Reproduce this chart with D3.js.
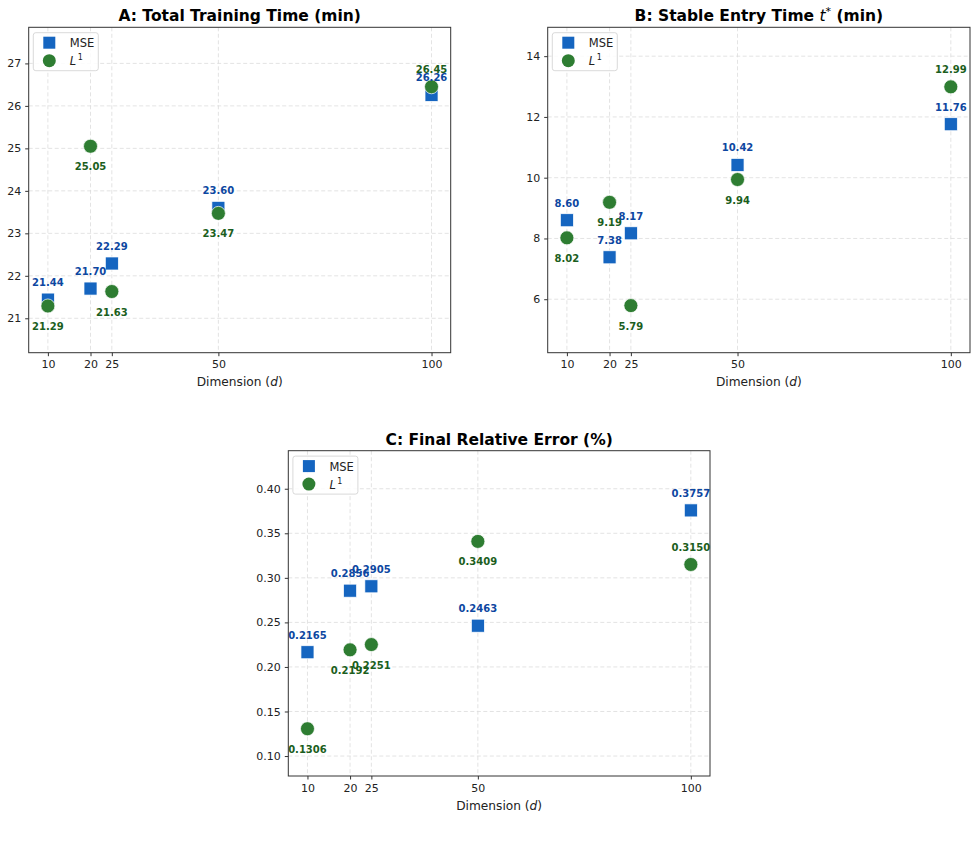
<!DOCTYPE html>
<html>
<head>
<meta charset="utf-8">
<script src="https://cdn.jsdelivr.net/npm/d3@7"></script>
<style>
  body { margin: 0; background: #fff; }
  svg { font-family: "DejaVu Sans", sans-serif; }
</style>
</head>
<body>
<svg id="fig" width="977" height="843"></svg>
<script>
// data
var dims = [10, 20, 25, 50, 100]
var timeMse = [21.44, 21.70, 22.29, 23.60, 26.26]
var timeL1 = [21.29, 25.05, 21.63, 23.47, 26.45]
var entryMse = [8.60, 7.38, 8.17, 10.42, 11.76]
var entryL1 = [8.02, 9.19, 5.79, 9.94, 12.99]
var errMse = [0.2165, 0.2856, 0.2905, 0.2463, 0.3757]
var errL1 = [0.1306, 0.2192, 0.2251, 0.3409, 0.3150]
var timeTicks = [21, 22, 23, 24, 25, 26, 27]
var entryTicks = [6, 8, 10, 12, 14]
var errTicks = [0.10, 0.15, 0.20, 0.25, 0.30, 0.35, 0.40]

var blue = "#1565c0", green = "#2e7d32"
var blueText = "#0d47a1", greenText = "#1b5e20"

var panels = [
  { title: "A: Total Training Time (min)", mse: timeMse, l1: timeL1, ticks: timeTicks,
    ydom: [20.19, 27.85], fmt: d3.format(".2f"), tfmt: d3.format("d"),
    x0: 28.7, x1: 450.7, y0: 27.3, y1: 352.7 },
  { title: "B", mse: entryMse, l1: entryL1, ticks: entryTicks,
    ydom: [4.24, 14.95], fmt: d3.format(".2f"), tfmt: d3.format("d"),
    x0: 547.7, x1: 970, y0: 27.3, y1: 352.7 },
  { title: "C: Final Relative Error (%)", mse: errMse, l1: errL1, ticks: errTicks,
    ydom: [0.0776, 0.4427], fmt: d3.format(".4f"), tfmt: d3.format(".2f"),
    x0: 288.3, x1: 710, y0: 450.7, y1: 776 }
]

var svg = d3.select("#fig")
svg.append("rect").attr("width", 977).attr("height", 843).attr("fill", "#fff")

panels.forEach(function(p) {
  var x = d3.scaleLinear().domain([5.5, 104.5]).range([p.x0, p.x1])
  var y = d3.scaleLinear().domain(p.ydom).range([p.y1, p.y0])
  var g = svg.append("g")

  // grid
  g.selectAll("line.gx").data(dims).enter().append("line")
    .attr("x1", d => x(d)).attr("x2", d => x(d))
    .attr("y1", p.y0).attr("y2", p.y1)
    .attr("stroke", "#dcdcdc").attr("stroke-width", 0.8).attr("stroke-dasharray", "4,2.5")
  g.selectAll("line.gy").data(p.ticks).enter().append("line")
    .attr("y1", d => y(d)).attr("y2", d => y(d))
    .attr("x1", p.x0).attr("x2", p.x1)
    .attr("stroke", "#dcdcdc").attr("stroke-width", 0.8).attr("stroke-dasharray", "4,2.5")

  // axes
  var xa = g.append("g").attr("transform", "translate(0," + p.y1 + ")")
    .call(d3.axisBottom(x).tickValues(dims).tickSize(3.5).tickPadding(4.5).tickFormat(d3.format("d")))
  var ya = g.append("g").attr("transform", "translate(" + p.x0 + ",0)")
    .call(d3.axisLeft(y).tickValues(p.ticks).tickSize(3.5).tickPadding(4).tickFormat(p.tfmt))
  ;[xa, ya].forEach(function(a) {
    a.select(".domain").remove()
    a.selectAll("line").attr("stroke", "#333")
    a.selectAll("text").attr("font-size", 11).attr("fill", "#222").attr("font-family", "DejaVu Sans")
  })

  // markers
  g.selectAll("rect.m").data(dims).enter().append("rect")
    .attr("x", d => x(d) - 6.5).attr("y", (d, i) => y(p.mse[i]) - 6.5)
    .attr("width", 13).attr("height", 13)
    .attr("fill", blue).attr("stroke", "#fff").attr("stroke-width", 0.7)
  g.selectAll("circle.l").data(dims).enter().append("circle")
    .attr("cx", d => x(d)).attr("cy", (d, i) => y(p.l1[i])).attr("r", 7)
    .attr("fill", green).attr("stroke", "#fff").attr("stroke-width", 0.7)

  // value labels
  g.selectAll("text.vm").data(dims).enter().append("text")
    .attr("x", d => x(d)).attr("y", (d, i) => y(p.mse[i]) - 13.5)
    .attr("text-anchor", "middle").attr("font-size", 10).attr("font-weight", "bold")
    .attr("fill", blueText).text((d, i) => p.fmt(p.mse[i]))
  g.selectAll("text.vl").data(dims).enter().append("text")
    .attr("x", d => x(d))
    .attr("y", (d, i) => d === 100 ? y(p.l1[i]) - 13.5 : y(p.l1[i]) + 24)
    .attr("text-anchor", "middle").attr("font-size", 10).attr("font-weight", "bold")
    .attr("fill", greenText).text((d, i) => p.fmt(p.l1[i]))

  // frame
  g.append("rect").attr("x", p.x0).attr("y", p.y0)
    .attr("width", p.x1 - p.x0).attr("height", p.y1 - p.y0)
    .attr("fill", "none").attr("stroke", "#333").attr("stroke-width", 1)

  // title
  var cx = (p.x0 + p.x1) / 2
  var t = g.append("text").attr("x", cx).attr("y", p.y0 - 6)
    .attr("text-anchor", "middle").attr("font-size", 15.5).attr("font-weight", "bold")
  if (p.title === "B") {
    t.append("tspan").text("B: Stable Entry Time ")
    t.append("tspan").attr("font-style", "italic").attr("font-weight", "normal").text("t")
    t.append("tspan").attr("font-size", 11).attr("dy", -6).attr("font-weight", "normal").text("*")
    t.append("tspan").attr("dy", 6).text(" (min)")
  } else {
    t.text(p.title)
  }

  // x label
  var xl = g.append("text").attr("x", cx).attr("y", p.y1 + 33.5)
    .attr("text-anchor", "middle").attr("font-size", 12.2).attr("fill", "#222")
  xl.append("tspan").text("Dimension (")
  xl.append("tspan").attr("font-style", "italic").text("d")
  xl.append("tspan").text(")")

  // legend
  var lg = g.append("g").attr("transform", "translate(" + (p.x0 + 4.6) + "," + (p.y0 + 5.4) + ")")
  lg.append("rect").attr("width", 65).attr("height", 38).attr("rx", 2.5)
    .attr("fill", "#fff").attr("fill-opacity", 0.85).attr("stroke", "#cfcfcf").attr("stroke-width", 0.8)
  lg.append("rect").attr("x", 10).attr("y", 4).attr("width", 12).attr("height", 12).attr("fill", blue)
  lg.append("circle").attr("cx", 16).attr("cy", 28).attr("r", 6.5).attr("fill", green)
  lg.append("text").attr("x", 36.5).attr("y", 14.5).attr("font-size", 11.5).attr("fill", "#222").text("MSE")
  var ll = lg.append("text").attr("x", 36.5).attr("y", 32.5).attr("font-size", 11.5).attr("fill", "#222")
  ll.append("tspan").attr("font-style", "italic").text("L")
  ll.append("tspan").attr("font-size", 8).attr("dy", -5).attr("dx", 1.5).text("1")
})
</script>
</body>
</html>
